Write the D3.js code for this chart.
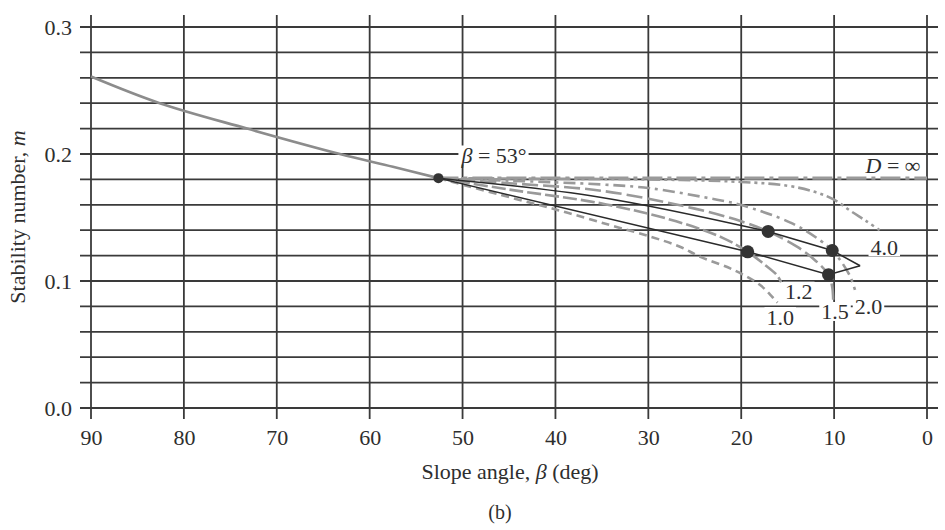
<!DOCTYPE html>
<html>
<head>
<meta charset="utf-8">
<script src="https://cdn.jsdelivr.net/npm/d3@7"></script>
<style>
  body { margin: 0; background: #fff; }
  svg { display: block; }
</style>
</head>
<body>
<svg id="chart" width="945" height="530"></svg>
<script>
// ---------- data ---------- //
var xTicks = [90, 80, 70, 60, 50, 40, 30, 20, 10, 0];
var yLabelTicks = [0, 0.1, 0.2, 0.3];
var yGrid = d3.range(0, 16).map(function(i) { return i * 0.02; });

// steep slopes (beta > 53)
var steepCurve = [[90, 0.261], [82.6, 0.240], [73.2, 0.220], [63.2, 0.200], [57.5, 0.190], [52.6, 0.181]];

// depth factor curves (beta < 53)
var curveInf = [[52.6, 0.181], [0, 0.181]];
var curve40 = [[52.6, 0.181], [40, 0.1805], [30, 0.180], [20, 0.178], [15, 0.175], [12, 0.170], [10, 0.164], [8.2, 0.155], [6.5, 0.147], [5.1, 0.140]];
var curve20 = [[52.6, 0.181], [45, 0.179], [35, 0.176], [29.8, 0.173], [22.6, 0.164], [20.1, 0.160], [14.7, 0.146], [11.5, 0.132], [10.2, 0.124], [9.4, 0.117], [8.3, 0.104], [7.75, 0.093]];
var curve15 = [[52.6, 0.181], [45, 0.177], [35, 0.171], [25, 0.157], [20, 0.147], [17.1, 0.139], [14, 0.127], [12, 0.116], [10.6, 0.105], [10.2, 0.095], [10.1, 0.085]];
var curve12 = [[52.6, 0.181], [45, 0.172], [35, 0.161], [27, 0.147], [22, 0.134], [19.3, 0.123], [17.5, 0.113], [16.2, 0.105], [15.7, 0.099]];
var curve10 = [[52.6, 0.181], [46, 0.168], [39.8, 0.156], [34.1, 0.144], [29.8, 0.135], [26.6, 0.127], [24.4, 0.119], [20.9, 0.109], [18, 0.097], [16.6, 0.087], [16.1, 0.083]];

// solid boundary lines and the points on them
var upperLine = [[52.6, 0.181], [35.2, 0.166], [17.1, 0.139], [10.2, 0.124], [7.2, 0.112]];
var lowerLine = [[52.6, 0.181], [19.3, 0.123], [10.6, 0.105], [7.2, 0.112]];
var dots = [[52.6, 0.181], [17.1, 0.139], [10.2, 0.124], [19.3, 0.123], [10.6, 0.105]];

var curveLabels = [
  { text: "4.0", b: 4.6, m: 0.127 },
  { text: "2.0", b: 6.3, m: 0.080 },
  { text: "1.5", b: 9.9, m: 0.076 },
  { text: "1.2", b: 13.8, m: 0.092 },
  { text: "1.0", b: 15.8, m: 0.072 }
];

// ---------- canvas ---------- //
var svg = d3.select("#chart");
var font = "'Liberation Serif', 'Times New Roman', serif";
var ink = "#2e2e2e";

var x = d3.scaleLinear().domain([90, 0]).range([91, 927]);
var y = d3.scaleLinear().domain([0, 0.3]).range([408, 27]);

// --- grid --- //
var grid = svg.append("g")
    .attr("stroke", "#3a3a3a")
    .attr("stroke-width", 1.8);

grid.selectAll("line.h")
    .data(yGrid)
    .enter().append("line")
    .attr("class", "h")
    .attr("x1", 80)
    .attr("x2", 938)
    .attr("y1", function(d) { return y(d); })
    .attr("y2", function(d) { return y(d); });

grid.selectAll("line.v")
    .data(xTicks)
    .enter().append("line")
    .attr("class", "v")
    .attr("x1", function(d) { return x(d); })
    .attr("x2", function(d) { return x(d); })
    .attr("y1", 15)
    .attr("y2", 419);

// --- axes labels --- //
var yAxis = svg.append("g")
    .attr("transform", "translate(80,0)")
    .call(d3.axisLeft(y).tickValues(yLabelTicks).tickFormat(d3.format(".1f")).tickSize(0).tickPadding(8));
yAxis.select(".domain").remove();
yAxis.selectAll("text")
    .attr("font-family", font)
    .attr("font-size", "22px")
    .attr("fill", ink);

var xAxis = svg.append("g")
    .attr("transform", "translate(0,419)")
    .call(d3.axisBottom(x).tickValues(xTicks).tickSize(0).tickPadding(10));
xAxis.select(".domain").remove();
xAxis.selectAll("text")
    .attr("font-family", font)
    .attr("font-size", "22px")
    .attr("fill", ink);

// Axis titles
var xTitle = svg.append("text")
    .attr("x", 510)
    .attr("y", 479)
    .attr("text-anchor", "middle")
    .attr("font-family", font)
    .attr("font-size", "22px")
    .attr("fill", ink);
xTitle.append("tspan").text("Slope angle, ");
xTitle.append("tspan").attr("font-style", "italic").text("β");
xTitle.append("tspan").text(" (deg)");

svg.append("text")
    .attr("x", 500)
    .attr("y", 519)
    .attr("text-anchor", "middle")
    .attr("font-family", font)
    .attr("font-size", "20px")
    .attr("fill", ink)
    .text("(b)");

var yTitle = svg.append("text")
    .attr("transform", "translate(25,217) rotate(-90)")
    .attr("text-anchor", "middle")
    .attr("font-family", font)
    .attr("font-size", "22px")
    .attr("fill", ink);
yTitle.append("tspan").text("Stability number, ");
yTitle.append("tspan").attr("font-style", "italic").text("m");

// --- curves --- //
var line = d3.line()
    .x(function(d) { return x(d[0]); })
    .y(function(d) { return y(d[1]); })
    .curve(d3.curveCatmullRom.alpha(0.5));

var straight = d3.line()
    .x(function(d) { return x(d[0]); })
    .y(function(d) { return y(d[1]); });

var grayCurves = [
  { data: curve10, dash: "8,5" },
  { data: curve12, dash: "14,4" },
  { data: curve15, dash: "16,5" },
  { data: curve20, dash: "12,5,3,5" },
  { data: curve40, dash: "12,4,3,4,3,4" }
];

grayCurves.forEach(function(c) {
  svg.append("path")
      .attr("d", line(c.data))
      .attr("fill", "none")
      .attr("stroke", "#9a9a9a")
      .attr("stroke-width", 2.6)
      .attr("stroke-dasharray", c.dash);
});

svg.append("path")
    .attr("d", straight(curveInf))
    .attr("fill", "none")
    .attr("stroke", "#9a9a9a")
    .attr("stroke-width", 3.2)
    .attr("stroke-dasharray", "20,5,4,5");

svg.append("path")
    .attr("d", line(steepCurve))
    .attr("fill", "none")
    .attr("stroke", "#8c8c8c")
    .attr("stroke-width", 2.6);

svg.append("path")
    .attr("d", line(upperLine.slice(0, 3)) + "L" + upperLine.slice(3).map(function(d) { return x(d[0]) + "," + y(d[1]); }).join("L"))
    .attr("fill", "none")
    .attr("stroke", "#2a2a2a")
    .attr("stroke-width", 1.5);

svg.append("path")
    .attr("d", straight(lowerLine))
    .attr("fill", "none")
    .attr("stroke", "#2a2a2a")
    .attr("stroke-width", 1.5);

svg.selectAll("circle.dot")
    .data(dots)
    .enter().append("circle")
    .attr("class", "dot")
    .attr("cx", function(d) { return x(d[0]); })
    .attr("cy", function(d) { return y(d[1]); })
    .attr("r", function(d, i) { return i === 0 ? 5 : 6.5; })
    .attr("fill", "#333");

// --- labels with white backing --- //
function addLabel(px, py, parts) {
  var g = svg.append("g");
  var rect = g.append("rect").attr("fill", "#fff");
  var t = g.append("text")
      .attr("x", px)
      .attr("y", py)
      .attr("text-anchor", "middle")
      .attr("dominant-baseline", "central")
      .attr("font-family", font)
      .attr("font-size", "22px")
      .attr("fill", ink);
  parts.forEach(function(p) {
    t.append("tspan").attr("font-style", p.italic ? "italic" : null).text(p.text);
  });
  var bb = t.node().getBBox();
  rect.attr("x", bb.x - 2).attr("y", bb.y + 3).attr("width", bb.width + 4).attr("height", bb.height - 6);
}

curveLabels.forEach(function(l) {
  addLabel(x(l.b), y(l.m), [{ text: l.text }]);
});

addLabel(494, 155, [{ text: "β", italic: true }, { text: " = 53°" }]);
addLabel(893, 165, [{ text: "D", italic: true }, { text: " = ∞" }]);
</script>
</body>
</html>
